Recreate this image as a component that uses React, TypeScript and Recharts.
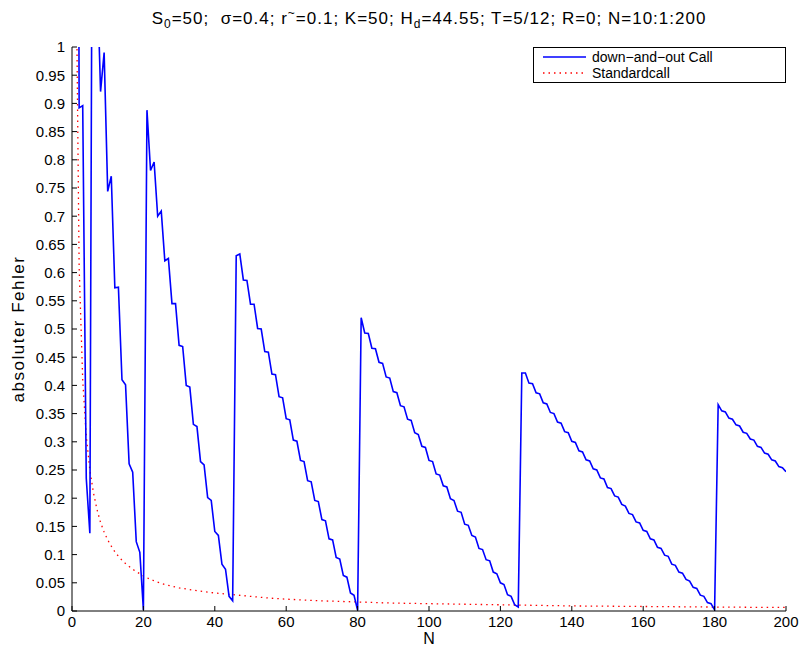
import React from "react";
import { LineChart, Line, XAxis, YAxis } from "recharts";

// absolute error of the down-and-out call, N = 1..200
const DOWN_OUT_ERR = [
    3.0, 0.892, 0.896, 0.235, 0.138, 1.9, 1.14, 0.921, 0.99, 0.744,
    0.771, 0.573, 0.574, 0.41, 0.401, 0.261, 0.246, 0.123, 0.104, 0.002,
    0.888, 0.781, 0.796, 0.7, 0.709, 0.621, 0.625, 0.545, 0.545, 0.471,
    0.469, 0.4, 0.397, 0.331, 0.327, 0.265, 0.259, 0.201, 0.196, 0.141,
    0.134, 0.083, 0.074, 0.026, 0.018, 0.63, 0.633, 0.587, 0.586, 0.544,
    0.544, 0.501, 0.5, 0.46, 0.459, 0.42, 0.419, 0.38, 0.378, 0.341,
    0.339, 0.303, 0.301, 0.267, 0.265, 0.231, 0.229, 0.196, 0.194, 0.162,
    0.16, 0.128, 0.126, 0.095, 0.092, 0.063, 0.06, 0.032, 0.028, 0.001,
    0.52, 0.493, 0.492, 0.466, 0.465, 0.441, 0.439, 0.415, 0.413, 0.389,
    0.387, 0.364, 0.362, 0.34, 0.338, 0.316, 0.313, 0.292, 0.29, 0.267,
    0.265, 0.243, 0.241, 0.222, 0.22, 0.199, 0.196, 0.177, 0.175, 0.154,
    0.152, 0.134, 0.131, 0.111, 0.109, 0.091, 0.089, 0.069, 0.066, 0.05,
    0.047, 0.029, 0.026, 0.011, 0.007, 0.422, 0.422, 0.404, 0.403, 0.387,
    0.385, 0.369, 0.367, 0.352, 0.35, 0.335, 0.333, 0.318, 0.316, 0.301,
    0.299, 0.284, 0.282, 0.268, 0.266, 0.252, 0.25, 0.236, 0.234, 0.219,
    0.217, 0.204, 0.202, 0.189, 0.186, 0.173, 0.171, 0.158, 0.156, 0.143,
    0.141, 0.128, 0.126, 0.113, 0.111, 0.099, 0.097, 0.083, 0.081, 0.069,
    0.067, 0.056, 0.053, 0.042, 0.04, 0.028, 0.026, 0.015, 0.013, 0.002,
    0.366, 0.355, 0.353, 0.342, 0.34, 0.33, 0.328, 0.317, 0.315, 0.305,
    0.303, 0.292, 0.29, 0.28, 0.278, 0.268, 0.266, 0.256, 0.254, 0.247,
];

// standard call error, read at fewer points (the curve is smooth)
const STD_N = [
    1, 2, 3, 4, 5, 6, 7, 8, 9, 10, 11, 12, 13, 14, 15, 16, 17, 18, 19, 20,
    22, 24, 26, 28, 30, 35, 40, 45, 50, 55, 60, 70, 80, 90, 100,
    110, 120, 130, 140, 150, 160, 170, 180, 190, 200,
];
const STD_ERR = [
    1.25, 0.61, 0.41, 0.31, 0.25, 0.21, 0.18, 0.157, 0.14, 0.126,
    0.115, 0.105, 0.097, 0.09, 0.084, 0.079, 0.074, 0.07, 0.066, 0.062,
    0.056, 0.051, 0.047, 0.044, 0.041, 0.036, 0.032, 0.029, 0.026, 0.023, 0.021,
    0.018, 0.016, 0.014, 0.013, 0.012, 0.011, 0.01, 0.009, 0.0085,
    0.008, 0.0075, 0.007, 0.0066, 0.0063,
];

const X_TICKS = [0, 20, 40, 60, 80, 100, 120, 140, 160, 180, 200];
const Y_TICKS = [
    0, 0.05, 0.1, 0.15, 0.2, 0.25, 0.3, 0.35, 0.4, 0.45, 0.5,
    0.55, 0.6, 0.65, 0.7, 0.75, 0.8, 0.85, 0.9, 0.95, 1,
];

const SERIES_NAMES = ["down\u2212and\u2212out Call", "Standardcall"];
const SERIES_COLORS = ["#0000ff", "#ff0000"];

const FONT = '"Liberation Sans", Arial, Helvetica, sans-serif';

const downData = DOWN_OUT_ERR.map((v, i) => ({ n: i + 1, err: v }));
const stdData = STD_N.map((n, i) => ({ n, err: STD_ERR[i] }));

const fmt = (v: number) => String(Number(v.toFixed(2)));
const blank = () => "";

const tickStyle = { fontSize: 15, fill: "#000", fontFamily: FONT };

const App: React.FC = () => {
    return (
        <div
            style={{
                position: "fixed", left: 0, top: 0, width: 799, height: 653,
                fontFamily: FONT, background: "#fff", overflow: "hidden",
            }}
        >
            <LineChart width={799} height={653} margin={{ top: 47, right: 13, bottom: 12, left: 32 }}>
                <XAxis
                    xAxisId="bottom"
                    dataKey="n"
                    type="number"
                    domain={[0, 200]}
                    ticks={X_TICKS}
                    allowDataOverflow
                    height={30}
                    tickSize={-5}
                    tickMargin={10}
                    stroke="#000"
                    tick={tickStyle}
                    interval={0}
                />
                <XAxis
                    xAxisId="top"
                    orientation="top"
                    dataKey="n"
                    type="number"
                    domain={[0, 200]}
                    ticks={X_TICKS}
                    allowDataOverflow
                    height={0}
                    tickSize={-5}
                    stroke="#000"
                    tickFormatter={blank}
                    interval={0}
                />
                <YAxis
                    yAxisId="left"
                    type="number"
                    domain={[0, 1]}
                    ticks={Y_TICKS}
                    allowDataOverflow
                    width={40}
                    tickSize={-5}
                    tickMargin={12}
                    stroke="#000"
                    tick={tickStyle}
                    tickFormatter={fmt}
                    interval={0}
                />
                <YAxis
                    yAxisId="right"
                    orientation="right"
                    type="number"
                    domain={[0, 1]}
                    ticks={Y_TICKS}
                    allowDataOverflow
                    width={0}
                    tickSize={-5}
                    stroke="#000"
                    tickFormatter={blank}
                    interval={0}
                />
                <Line
                    xAxisId="bottom"
                    yAxisId="left"
                    data={stdData}
                    dataKey="err"
                    name={SERIES_NAMES[1]}
                    stroke={SERIES_COLORS[1]}
                    strokeWidth={1.3}
                    strokeDasharray="1.5 4"
                    dot={false}
                    activeDot={false}
                    isAnimationActive={false}
                />
                <Line
                    xAxisId="bottom"
                    yAxisId="left"
                    data={downData}
                    dataKey="err"
                    name={SERIES_NAMES[0]}
                    stroke={SERIES_COLORS[0]}
                    strokeWidth={1.6}
                    dot={false}
                    activeDot={false}
                    isAnimationActive={false}
                />
            </LineChart>

            {/* title */}
            <div
                style={{
                    position: "absolute", left: 0, width: 858, top: 6, textAlign: "center",
                    fontSize: 17, letterSpacing: 1, whiteSpace: "nowrap",
                }}
            >
                S<sub style={{ fontSize: 12 }}>0</sub>=50;&nbsp; σ=0.4; r<sup style={{ fontSize: 12 }}>~</sup>=0.1; K=50; H<sub style={{ fontSize: 12 }}>d</sub>=44.55; T=5/12; R=0; N=10:1:200
            </div>

            {/* axis labels */}
            <div style={{ position: "absolute", left: 72, width: 714, top: 630, textAlign: "center", fontSize: 16, lineHeight: "18px" }}>N</div>
            <div
                style={{
                    position: "absolute", left: 19, top: 329, fontSize: 17, letterSpacing: 1.5, whiteSpace: "nowrap",
                    transform: "translate(-50%, -50%) rotate(-90deg)",
                }}
            >
                absoluter Fehler
            </div>

            {/* legend */}
            <div
                style={{
                    position: "absolute", left: 533, top: 47, width: 253, height: 36, boxSizing: "border-box",
                    border: "1px solid #000", background: "#fff", fontSize: 14, paddingTop: 1,
                }}
            >
                {SERIES_NAMES.map((name, i) => (
                    <div key={`leg-${i}`} style={{ display: "flex", alignItems: "center", height: 16 }}>
                        <svg width={58} height={16}>
                            <line
                                x1={9} x2={52} y1={8} y2={8}
                                stroke={SERIES_COLORS[i]}
                                strokeWidth={i === 0 ? 1.6 : 1.3}
                                strokeDasharray={i === 1 ? "1.5 4" : undefined}
                            />
                        </svg>
                        <span>{name}</span>
                    </div>
                ))}
            </div>
        </div>
    );
};

export default App;
